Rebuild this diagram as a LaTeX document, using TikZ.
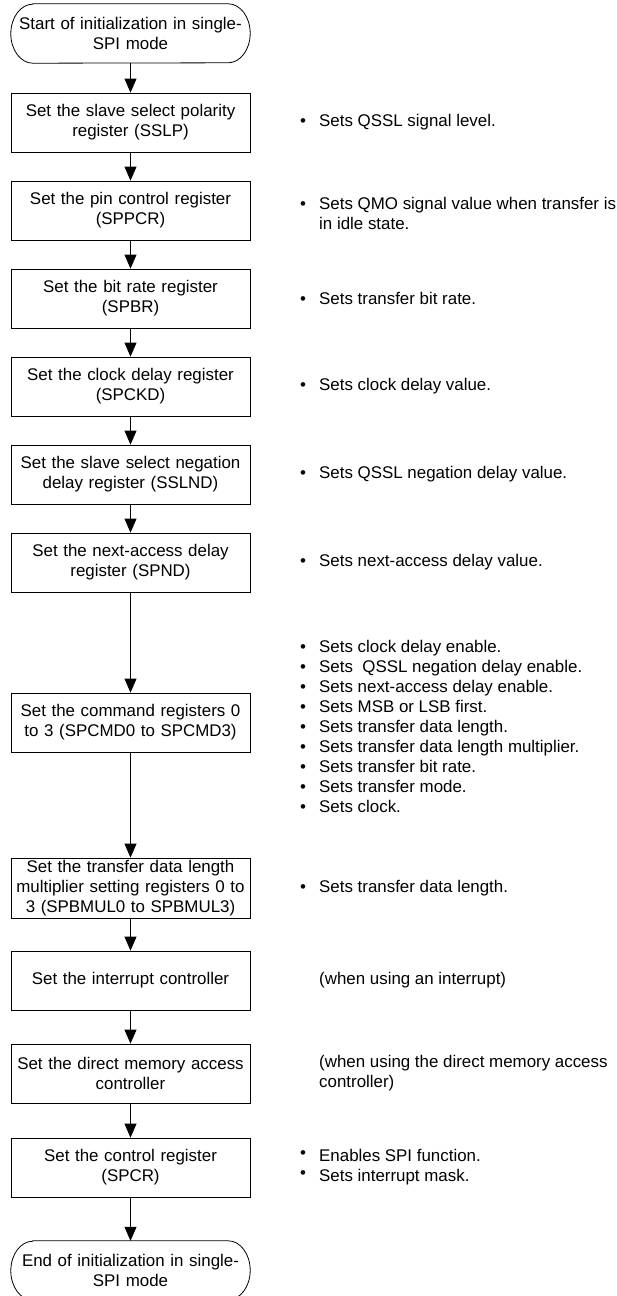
\documentclass[tikz,border=0pt]{standalone}
\usepackage{fontspec}
\setmainfont{Liberation Sans}
\usetikzlibrary{arrows.meta}
\begin{document}
\begin{tikzpicture}[x=1pt,y=-1pt,
  txt/.style={font=\fontsize{16.9pt}{20pt}\selectfont},
  stepbox/.style={txt,draw=black,line width=0.8pt,minimum width=239pt,minimum height=59pt,text width=235pt,align=center,inner sep=0pt},
  termnode/.style={txt,minimum width=239pt,minimum height=59pt,text width=235pt,align=center,inner sep=0pt},
  term/.style={draw=black,line width=0.8pt},
  note/.style={txt,anchor=west,align=left,inner sep=0pt},
  arr/.style={draw=black,line width=0.8pt,-{Triangle[length=14pt,width=12pt]}}
]
\useasboundingbox (0,0) rectangle (616,1296);
\newcommand{\bl}{\makebox[19pt][l]{•}}
\newcommand{\blr}{\makebox[19pt][l]{\raisebox{3pt}{•}}}
\newcommand{\ind}{\hspace*{19pt}}
\newcommand{\termshape}[1]{%
  \draw[term] ([xshift=22pt]#1.north west) -- ([xshift=-22pt]#1.north east)
    arc[start angle=90,end angle=-90,x radius=22pt,y radius=29.5pt]
    -- ([xshift=22pt]#1.south west)
    arc[start angle=270,end angle=90,x radius=22pt,y radius=29.5pt] -- cycle;}

% flow column
\node[termnode] (start) at (130.5,33.5) {Start of initialization in single-\\SPI mode};
\termshape{start}
\node[stepbox] (b1) at (130.5,122.5) {Set the slave select polarity\\register (SSLP)};
\node[stepbox] (b2) at (130.5,210.5) {Set the pin control register\\(SPPCR)};
\node[stepbox] (b3) at (130.5,298.5) {Set the bit rate register\\(SPBR)};
\node[stepbox] (b4) at (130.5,386.5) {Set the clock delay register\\(SPCKD)};
\node[stepbox] (b5) at (130.5,474.5) {Set the slave select negation\\delay register (SSLND)};
\node[stepbox] (b6) at (130.5,562.5) {Set the next-access delay\\register (SPND)};
\node[stepbox] (cmd) at (130.5,722.5) {Set the command registers 0\\to 3 (SPCMD0 to SPCMD3)};
\node[stepbox,minimum height=60pt] (mul) at (130.5,888) {Set the transfer data length\\multiplier setting registers 0 to\\3 (SPBMUL0 to SPBMUL3)};
\node[stepbox] (intr) at (130.5,980.5) {Set the interrupt controller};
\node[stepbox] (dma) at (130.5,1073.5) {Set the direct memory access\\controller};
\node[stepbox] (ctl) at (130.5,1167.5) {Set the control register\\(SPCR)};
\node[termnode] (stop) at (130.5,1270.5) {End of initialization in single-\\SPI mode};
\termshape{stop}

% connectors
\draw[arr] (start) -- (b1);
\draw[arr] (b1) -- (b2);
\draw[arr] (b2) -- (b3);
\draw[arr] (b3) -- (b4);
\draw[arr] (b4) -- (b5);
\draw[arr] (b5) -- (b6);
\draw[arr] (b6) -- (cmd);
\draw[arr] (cmd) -- (mul);
\draw[arr] (mul) -- (intr);
\draw[arr] (intr) -- (dma);
\draw[arr] (dma) -- (ctl);
\draw[arr] (ctl) -- (stop);

% notes
\node[note] (n1) at (300,122.5) {\bl Sets QSSL signal level.};
\node[note] (n2) at (300,213) {\bl Sets QMO signal value when transfer is\\\ind in idle state.};
\node[note] (n3) at (300,298.5) {\bl Sets transfer bit rate.};
\node[note] (n4) at (300,386.5) {\bl Sets clock delay value.};
\node[note] (n5) at (300,474.5) {\bl Sets QSSL negation delay value.};
\node[note] (n6) at (300,562.5) {\bl Sets next-access delay value.};
\node[note] (n7) at (300,726) {\bl Sets clock delay enable.\\
\bl Sets\ \ QSSL negation delay enable.\\
\bl Sets next-access delay enable.\\
\bl Sets MSB or LSB first.\\
\bl Sets transfer data length.\\
\bl Sets transfer data length multiplier.\\
\bl Sets transfer bit rate.\\
\bl Sets transfer mode.\\
\bl Sets clock.};
\node[note] (n8) at (300,888) {\bl Sets transfer data length.};
\node[note] (n9) at (319,980.5) {(when using an interrupt)};
\node[note] (n10) at (319,1073.5) {(when using the direct memory access\\controller)};
\node[note] (n11) at (300,1167.5) {\blr Enables SPI function.\\\blr Sets interrupt mask.};
\end{tikzpicture}
\end{document}
